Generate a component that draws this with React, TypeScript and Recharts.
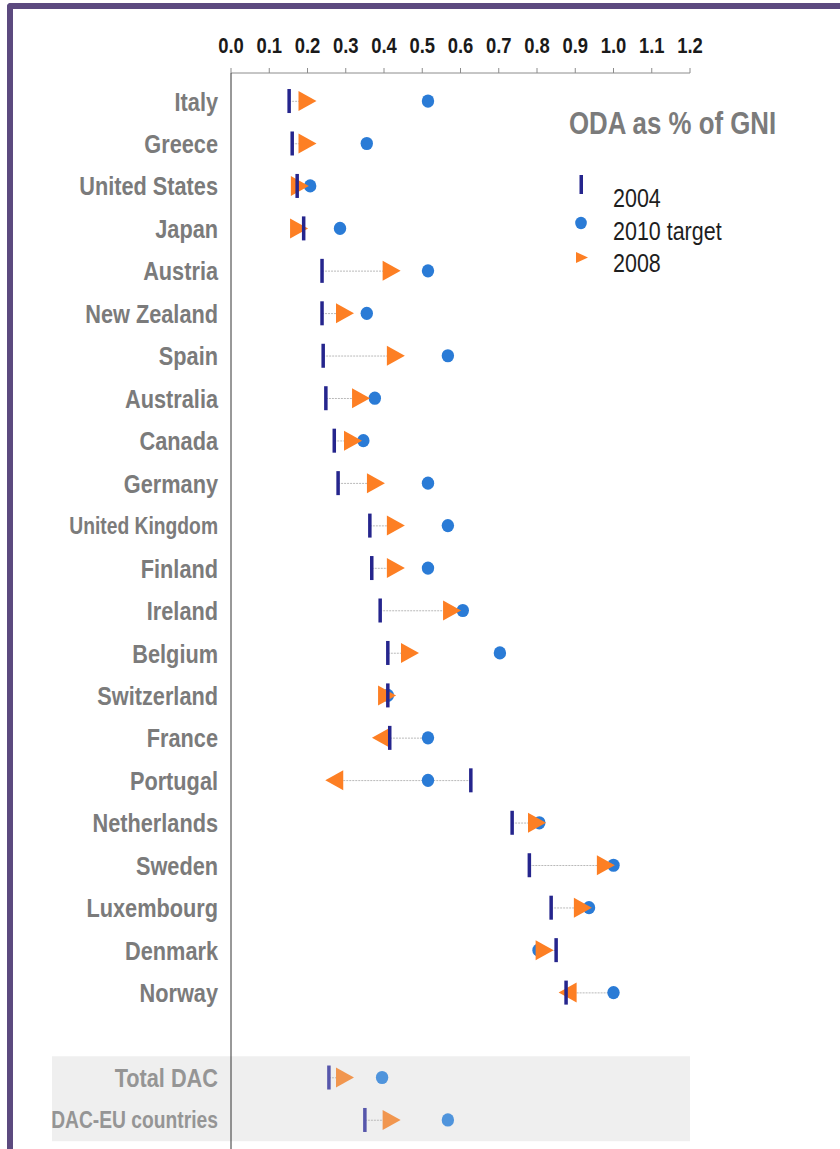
import React from 'react';
import { ComposedChart, Scatter, Bar, XAxis, YAxis, ReferenceArea, Legend } from 'recharts';

// ---------- data ----------
const countries = [
  'Italy', 'Greece', 'United States', 'Japan', 'Austria', 'New Zealand', 'Spain', 'Australia',
  'Canada', 'Germany', 'United Kingdom', 'Finland', 'Ireland', 'Belgium', 'Switzerland', 'France',
  'Portugal', 'Netherlands', 'Sweden', 'Luxembourg', 'Denmark', 'Norway', ' ', 'Total DAC', 'DAC-EU countries',
];
const rowGroup = [
  'country', 'country', 'country', 'country', 'country', 'country', 'country', 'country',
  'country', 'country', 'country', 'country', 'country', 'country', 'country', 'country',
  'country', 'country', 'country', 'country', 'country', 'country', 'blank', 'summary', 'summary',
];
const oda2004 = [
  0.152, 0.16, 0.173, 0.19, 0.238, 0.238, 0.241, 0.248, 0.27, 0.28, 0.363, 0.368, 0.39, 0.41, 0.41, 0.415,
  0.627, 0.735, 0.78, 0.837, 0.85, 0.876, null, 0.256, 0.35,
];
const target2010 = [
  0.515, 0.355, 0.207, 0.285, 0.515, 0.355, 0.567, 0.376, 0.346, 0.515, 0.567, 0.515, 0.606, 0.703, 0.41, 0.515,
  0.515, 0.806, 1.0, 0.936, 0.804, 1.0, null, 0.395, 0.567,
];
const oda2008 = [
  0.20, 0.20, 0.18, 0.178, 0.42, 0.298, 0.431, 0.34, 0.319, 0.379, 0.431, 0.431, 0.578, 0.468, 0.408, 0.392,
  0.27, 0.80, 0.98, 0.92, 0.82, 0.88, null, 0.298, 0.42,
];
const arrow2008 = [
  'right', 'right', 'right', 'right', 'right', 'right', 'right', 'right', 'right', 'right', 'right', 'right',
  'right', 'right', 'right', 'left', 'left', 'right', 'right', 'right', 'right', 'left', null, 'right', 'right',
];
const linkFrom = [
  0.152, 0.16, 0.173, 0.178, 0.238, 0.238, 0.241, 0.248, 0.27, 0.28, 0.363, 0.368, 0.39, 0.41, 0.41, 0.392,
  0.27, 0.735, 0.78, 0.837, 0.82, 0.88, null, 0.256, 0.35,
];
const linkTo = [
  0.20, 0.20, 0.18, 0.19, 0.42, 0.298, 0.431, 0.34, 0.319, 0.379, 0.431, 0.431, 0.578, 0.468, 0.41, 0.515,
  0.627, 0.80, 0.98, 0.92, 0.85, 1.0, null, 0.298, 0.42,
];
const xTicks = [0, 0.1, 0.2, 0.3, 0.4, 0.5, 0.6, 0.7, 0.8, 0.9, 1.0, 1.1, 1.2];
const xTickLabels = ['0.0', '0.1', '0.2', '0.3', '0.4', '0.5', '0.6', '0.7', '0.8', '0.9', '1.0', '1.1', '1.2'];
const legendOrder = ['2004', '2010 target', '2008'];
const chartTitle = 'ODA as % of GNI';
const bandExtentLeft = -0.468;

const data = countries.map((c, i) => ({
  country: c,
  group: rowGroup[i],
  v2004: oda2004[i],
  target: target2010[i],
  v2008: oda2008[i],
  arrow: arrow2008[i],
  link: linkFrom[i] == null ? null : [linkFrom[i], linkTo[i]],
}));

// ---------- styles ----------
const FONT = '"Liberation Sans", Arial, Helvetica, sans-serif';
const NARROW = 0.82;
const COL: any = {
  country: { bar: '#25258d', dot: '#2a7bd6', tri: '#fd7f24', label: '#7b7b7b' },
  summary: { bar: '#5656ab', dot: '#4f94dc', tri: '#f1964f', label: '#959595' },
  blank: { bar: '#25258d', dot: '#2a7bd6', tri: '#fd7f24', label: '#7b7b7b' },
};

const ok = (v: any) => typeof v === 'number' && isFinite(v);

const BarMark = (p: any) => {
  if (!ok(p.cx) || !ok(p.cy)) return <g />;
  const c = COL[p.payload?.group || 'country'];
  return <rect x={p.cx - 1.75} y={p.cy - 12} width={3.5} height={24} fill={c.bar} />;
};
const DotMark = (p: any) => {
  if (!ok(p.cx) || !ok(p.cy)) return <g />;
  const c = COL[p.payload?.group || 'country'];
  return <ellipse cx={p.cx} cy={p.cy} rx={6.2} ry={6.6} fill={c.dot} />;
};
const TriMark = (p: any) => {
  if (!ok(p.cx) || !ok(p.cy)) return <g />;
  const c = COL[p.payload?.group || 'country'];
  const d = p.payload?.arrow === 'left' ? -1 : 1;
  const { cx, cy } = p;
  const pts = `${cx - 9 * d},${cy - 10} ${cx + 9 * d},${cy} ${cx - 9 * d},${cy + 10}`;
  return <polygon points={pts} fill={c.tri} />;
};
const LinkShape = (p: any) => {
  const { x, y, width, height } = p;
  if (!ok(x) || !ok(y) || !ok(width)) return <g />;
  const yc = y + (height || 0) / 2;
  return <line x1={x} x2={x + width} y1={yc} y2={yc} stroke="#b9b9b9" strokeWidth={1} strokeDasharray="2 1" />;
};

const YTick = (p: any) => {
  const { x, y, payload } = p;
  const name = String(payload?.value ?? '');
  const i = countries.indexOf(name);
  const g = rowGroup[i] || 'country';
  const size = name.length >= 14 ? 23.5 : 26.5;
  return (
    <g transform={`translate(${x},${y})`}>
      <text transform={`scale(${NARROW},1)`} textAnchor="end" dy="0.36em" fontFamily={FONT}
        fontWeight="bold" fontSize={size} fill={COL[g].label}>{name}</text>
    </g>
  );
};

const XTick = (p: any) => {
  const { x, y, payload } = p;
  const idx = xTicks.findIndex((t) => Math.abs(t - payload.value) < 1e-9);
  const label = idx >= 0 ? xTickLabels[idx] : String(payload.value);
  return (
    <g transform={`translate(${x},${y - 13})`}>
      <text transform={`scale(${NARROW},1)`} textAnchor="middle" fontFamily={FONT}
        fontWeight="bold" fontSize={22.5} fill="#1a1a1a">{label}</text>
    </g>
  );
};

const legendMarker = (name: string) => {
  if (name === '2004') return <rect x={39.5} y={80} width={3.5} height={19} fill={COL.country.bar} />;
  if (name === '2010 target') return <ellipse cx={41} cy={128} rx={5.8} ry={6.2} fill={COL.country.dot} />;
  return <polygon points="36,157 48,162.5 36,168" fill={COL.country.tri} />;
};
const legendBaseline: any = { '2004': 112, '2010 target': 145, '2008': 177 };

const LegendContent = (props: any) => {
  const payload: any[] = props?.payload || [];
  const names = legendOrder.filter((n) => payload.length === 0 || payload.some((e) => e.value === n));
  return (
    <svg width={300} height={190} style={{ display: 'block' }}>
      <g transform="translate(29,38.5)">
        <text transform={`scale(${NARROW},1)`} fontFamily={FONT} fontWeight="bold" fontSize={31.5} fill="#7b7b7b">
          {chartTitle}
        </text>
      </g>
      {names.map((n) => (
        <g key={n}>
          {legendMarker(n)}
          <g transform={`translate(73,${legendBaseline[n]})`}>
            <text transform={`scale(${NARROW},1)`} fontFamily={FONT} fontSize={26.2} fill="#1e1e1e">{n}</text>
          </g>
        </g>
      ))}
    </svg>
  );
};

const BandShape = (p: any) => {
  const { x, y, width, height } = p;
  if (!ok(x) || !ok(y)) return <g />;
  return <rect x={x} y={y} width={width} height={height} fill="#efefef" />;
};

export default function App() {
  return (
    <div style={{ position: 'absolute', left: 0, top: 0, width: 840, height: 1149, overflow: 'hidden', background: '#fff' }}>
      <div style={{
        position: 'absolute', left: 7, top: 3, width: 900, height: 1300, boxSizing: 'border-box',
        borderLeft: '6px solid #5c4a7f', borderTop: '6px solid #5c4a7f', borderTopLeftRadius: 4,
      }} />
      <div style={{ position: 'absolute', left: 0, top: 0 }}>
        <ComposedChart width={840} height={1170} data={data} layout="vertical"
          margin={{ top: 0, right: 150, bottom: 0, left: 0 }}>
          <ReferenceArea y1="Total DAC" y2="DAC-EU countries" x1={bandExtentLeft} x2={1.2}
            ifOverflow="visible" shape={BandShape} />
          <XAxis type="number" orientation="top" domain={[0, 1.2]} ticks={xTicks} interval={0}
            height={73} tickSize={5} tickMargin={2} stroke="#8c8c8c" tick={XTick} allowDataOverflow />
          <YAxis type="category" dataKey="country" width={231} interval={0} tickLine={false}
            tickSize={0} tickMargin={13} stroke="#333" padding={{ top: 6.8, bottom: 28.8 }} tick={YTick} />
          <Bar dataKey="link" barSize={1} shape={LinkShape} isAnimationActive={false} legendType="none" />
          <Scatter name="2010 target" dataKey="target" shape={DotMark} isAnimationActive={false} />
          <Scatter name="2008" dataKey="v2008" shape={TriMark} isAnimationActive={false} />
          <Scatter name="2004" dataKey="v2004" shape={BarMark} isAnimationActive={false} />
          <Legend layout="vertical" verticalAlign="middle" align="center" content={LegendContent}
            wrapperStyle={{ left: 540, top: 95, width: 300, height: 190 }} />
        </ComposedChart>
      </div>
    </div>
  );
}
